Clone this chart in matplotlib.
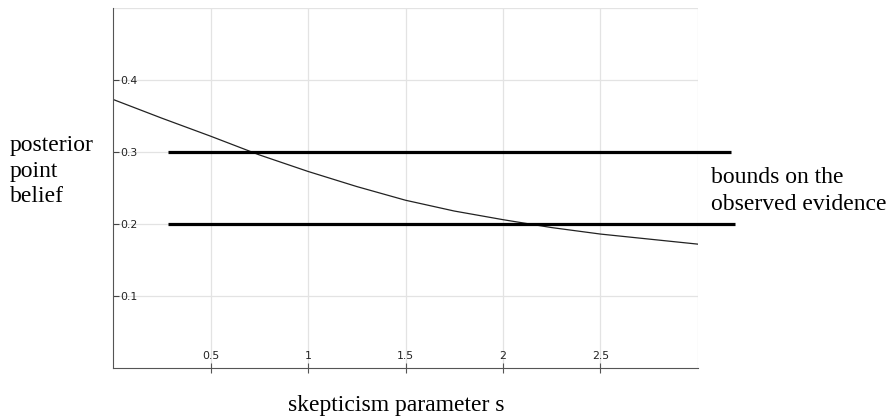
import numpy as np
import matplotlib.pyplot as plt

# skepticism parameter s vs posterior point belief
s_vals = [0, 0.25, 0.5, 0.75, 1.0, 1.25, 1.5, 1.75, 2.0, 2.25, 2.5, 2.75, 3.0]
belief = [0.373, 0.347, 0.322, 0.296, 0.273, 0.252, 0.233, 0.218, 0.206, 0.195, 0.186, 0.179, 0.172]

# bounds on the observed evidence: (level, x start, x end)
bound_levels = [0.3, 0.2]
bound_start = [0.28, 0.28]
bound_end = [3.17, 3.19]

xticks = [0.5, 1, 1.5, 2, 2.5]
xtick_labels = ['0.5', '1', '1.5', '2', '2.5']
yticks = [0.1, 0.2, 0.3, 0.4]
ytick_labels = ['0.1', '0.2', '0.3', '0.4']

fig = plt.figure(figsize=(8.92, 4.16), dpi=100)
ax = fig.add_axes([0.1267, 0.1154, 0.6558, 0.8654])

ax.plot(s_vals, belief, color='#222222', lw=0.9)
for lev, x0, x1 in zip(bound_levels, bound_start, bound_end):
    ax.plot([x0, x1], [lev, lev], color='black', lw=2.3, clip_on=False, solid_capstyle='butt')

ax.set_xlim(0, 3)
ax.set_ylim(0, 0.5)

# light grid
for gx in [0.5, 1, 1.5, 2, 2.5, 3]:
    ax.axvline(gx, color='#e3e3e3', lw=0.9, zorder=0)
for gy in [0.1, 0.2, 0.3, 0.4, 0.5]:
    ax.axhline(gy, color='#e3e3e3', lw=0.9, zorder=0)

ax.set_xticks(xticks)
ax.set_xticklabels(xtick_labels)
ax.set_yticks(yticks)
ax.set_yticklabels(ytick_labels)
ax.tick_params(axis='x', direction='inout', length=7, width=0.8, color='#555555',
               labelsize=7.8, pad=-16, labelcolor='#222222')
ax.tick_params(axis='y', direction='in', length=4, width=0.8, color='#444444',
               labelsize=7.8, pad=-5, labelcolor='#222222')
for lab in ax.get_yticklabels():
    lab.set_horizontalalignment('left')

ax.spines['top'].set_visible(False)
ax.spines['right'].set_visible(False)
ax.spines['left'].set_color('#555555')
ax.spines['bottom'].set_color('#555555')
ax.spines['left'].set_linewidth(0.8)
ax.spines['bottom'].set_linewidth(0.8)

serif = ['Liberation Serif', 'DejaVu Serif']
fig.text(10 / 892, 1 - 171 / 416, 'posterior\npoint\nbelief', family=serif, fontsize=17,
         ha='left', va='center', linespacing=1.25)
fig.text(711 / 892, 1 - 191 / 416, 'bounds on the\nobserved evidence', family=serif, fontsize=17,
         ha='left', va='center', linespacing=1.35)
fig.text(396 / 892, 1 - 406 / 416, 'skepticism parameter s', family=serif, fontsize=17,
         ha='center', va='center')

fig.savefig('out.png', dpi=100)
